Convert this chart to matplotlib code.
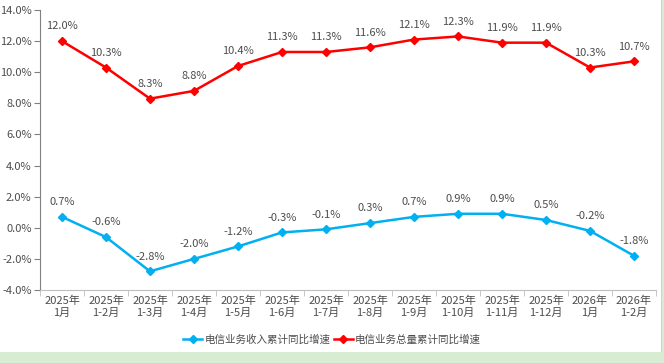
import matplotlib.pyplot as plt
import matplotlib.patches as mpatches

plt.rcParams['font.family'] = ['Noto Sans CJK SC', 'DejaVu Sans']

# data
months = ['2025年\n1月', '2025年\n1-2月', '2025年\n1-3月', '2025年\n1-4月', '2025年\n1-5月',
          '2025年\n1-6月', '2025年\n1-7月', '2025年\n1-8月', '2025年\n1-9月', '2025年\n1-10月',
          '2025年\n1-11月', '2025年\n1-12月', '2026年\n1月', '2026年\n1-2月']
revenue = [0.7, -0.6, -2.8, -2.0, -1.2, -0.3, -0.1, 0.3, 0.7, 0.9, 0.9, 0.5, -0.2, -1.8]
volume = [12.0, 10.3, 8.3, 8.8, 10.4, 11.3, 11.3, 11.6, 12.1, 12.3, 11.9, 11.9, 10.3, 10.7]
names = ['电信业务收入累计同比增速', '电信业务总量累计同比增速']

blue = '#00B0F0'
red = '#FF0000'
txt = '#4D4D4D'
grey = '#BFBFBF'
fs = 8

fig = plt.figure(figsize=(6.64, 3.63), dpi=100)
fig.patch.set_facecolor('#D8ECD3')
# white card
fig.patches.append(mpatches.Rectangle((0, 11 / 363), 661 / 664, 1, transform=fig.transFigure,
                                      facecolor='white', edgecolor='none', zorder=-5))
fig.patches.append(mpatches.Rectangle((661 / 664, 11 / 363), 1 / 664, 1, transform=fig.transFigure,
                                      facecolor='#D0D0D0', edgecolor='none', zorder=-5))

ax = fig.add_axes([40 / 664, 1 - 290 / 363, 616 / 664, 280 / 363])
ax.set_facecolor('none')
x = list(range(len(months)))

ax.plot(x, revenue, color=blue, lw=1.8, marker='D', ms=4, label=names[0])
ax.plot(x, volume, color=red, lw=1.8, marker='D', ms=4, label=names[1])

for xi, v in zip(x, revenue):
    ax.annotate(f'{v:.1f}%', (xi, v), xytext=(0, 7), textcoords='offset points',
                ha='center', va='bottom', fontsize=fs, color=txt)
for xi, v in zip(x, volume):
    ax.annotate(f'{v:.1f}%', (xi, v), xytext=(0, 7), textcoords='offset points',
                ha='center', va='bottom', fontsize=fs, color=txt)

ax.set_xlim(-0.5, len(months) - 0.5)
ax.set_ylim(-4, 14)
ax.set_yticks(range(-4, 15, 2))
ax.set_yticklabels([f'{v:.1f}%' for v in range(-4, 15, 2)], fontsize=fs, color=txt)
ax.set_xticks(x)
ax.set_xticklabels(months, fontsize=fs, color=txt, linespacing=1.2)
ax.set_xticks([i - 0.5 for i in range(len(months) + 1)], minor=True)
ax.tick_params(axis='x', which='major', length=0, pad=4)
ax.tick_params(axis='x', which='minor', length=4, color=grey)
ax.tick_params(axis='y', length=4, color='#808080', pad=2)

for s in ['top', 'right']:
    ax.spines[s].set_visible(False)
ax.spines['left'].set_color('#808080')
ax.spines['bottom'].set_color(grey)

fig.legend(loc='center', bbox_to_anchor=(0.5, 1 - 340 / 363), ncol=2, frameon=False,
           fontsize=7.6, handlelength=1.8, columnspacing=0.3, handletextpad=0.2,
           labelcolor=txt)

fig.savefig('out.png', dpi=100, facecolor=fig.get_facecolor())
